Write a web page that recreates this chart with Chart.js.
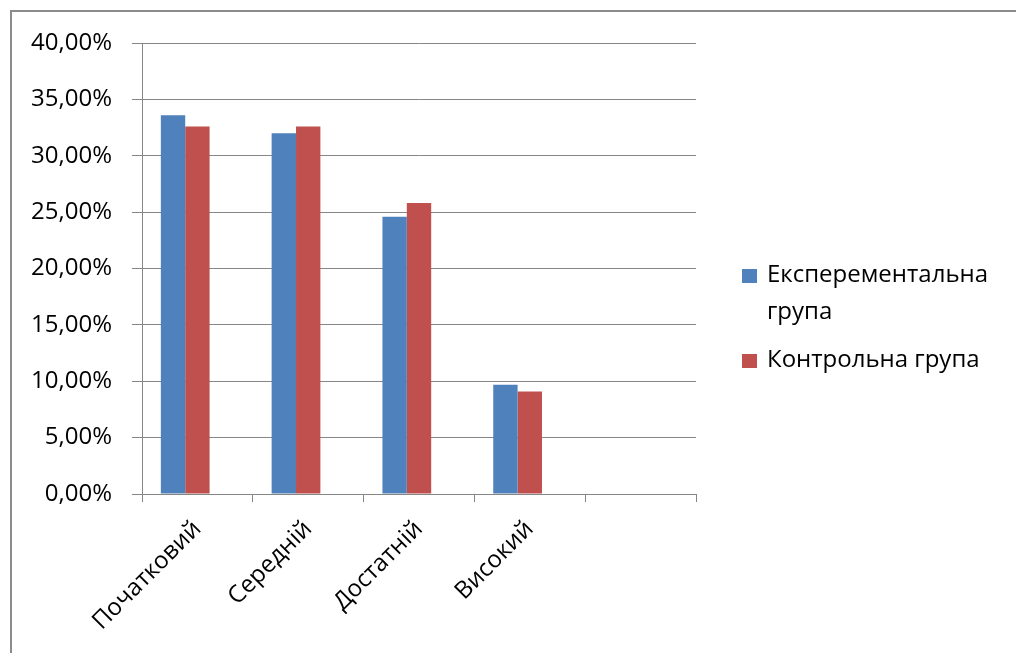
<!DOCTYPE html>
<html lang="uk">
<head>
    <meta charset="UTF-8">
    <title>Рівні — експериментальна та контрольна група</title>
    <script src="https://cdn.jsdelivr.net/npm/chart.js"></script>
    <style>
        html, body {
            margin: 0;
            padding: 0;
            background: #fff;
            overflow: hidden;
        }

        .frame {
            position: absolute;
            left: 10px;
            top: 10px;
            width: 1100px;
            height: 700px;
            border-left: 2px solid #8c8c8c;
            border-top: 2px solid #8c8c8c;
        }

        #chart {
            position: absolute;
            left: 0;
            top: 0;
        }

        .legend-item {
            position: absolute;
            font-family: "Open Sans", sans-serif;
            font-size: 24px;
            line-height: 37px;
            color: #000;
        }

        .legend-box {
            position: absolute;
            width: 15px;
            height: 14px;
        }
    </style>
</head>
<body>
    <div class="frame"></div>
    <canvas id="chart" width="1016" height="653"></canvas>
    <div id="legend"></div>
    <script>
        // дані
        const categories = ['Початковий', 'Середній', 'Достатній', 'Високий', ''];
        const expGroup = [33.6, 32.0, 24.6, 9.7, null];
        const ctrlGroup = [32.6, 32.6, 25.8, 9.1, null];
        const emptySeries = [null, null, null, null, null]; // порожній ряд (зсуває групи)
        const seriesNames = ['Експерементальна група', 'Контрольна група'];
        const seriesColors = ['#4f81bd', '#c0504d'];
        const yTicks = [0, 5, 10, 15, 20, 25, 30, 35, 40];

        const axisColor = '#868686';
        const font = { family: '"Open Sans", sans-serif', size: 24 };

        const ctx = document.getElementById('chart').getContext('2d');
        new Chart(ctx, {
            type: 'bar',
            data: {
                labels: categories,
                datasets: [
                    { label: seriesNames[0], data: expGroup, backgroundColor: seriesColors[0] },
                    { label: seriesNames[1], data: ctrlGroup, backgroundColor: seriesColors[1] },
                    { label: '', data: emptySeries, backgroundColor: 'transparent' }
                ]
            },
            options: {
                responsive: false,
                animation: false,
                layout: { padding: { top: 43, right: 320, bottom: 0, left: 0 } },
                datasets: {
                    bar: { categoryPercentage: 0.66, barPercentage: 1, borderWidth: 0 }
                },
                plugins: {
                    legend: { display: false },
                    tooltip: { enabled: false }
                },
                scales: {
                    x: {
                        afterFit: s => { s.height = 159; },
                        grid: {
                            offset: true,
                            drawOnChartArea: false,
                            tickLength: 8,
                            color: axisColor
                        },
                        border: { color: axisColor },
                        ticks: {
                            font: font,
                            color: '#000',
                            minRotation: 45,
                            maxRotation: 45,
                            padding: 13
                        }
                    },
                    y: {
                        min: 0,
                        max: 40,
                        afterFit: s => { s.width = 142; },
                        afterBuildTicks: s => { s.ticks = yTicks.map(v => ({ value: v })); },
                        grid: { color: axisColor, tickLength: 10 },
                        border: { color: axisColor },
                        ticks: {
                            font: font,
                            color: '#000',
                            padding: 20,
                            callback: v => v.toFixed(2).replace('.', ',') + '%'
                        }
                    }
                }
            }
        });

        // легенда
        const legend = document.getElementById('legend');
        const legendTops = [254, 339];
        seriesNames.forEach((name, i) => {
            const box = document.createElement('div');
            box.className = 'legend-box';
            box.style.left = '742px';
            box.style.top = (legendTops[i] + 15) + 'px';
            box.style.background = seriesColors[i];
            legend.appendChild(box);

            const txt = document.createElement('div');
            txt.className = 'legend-item';
            txt.style.left = '767px';
            txt.style.top = legendTops[i] + 'px';
            txt.style.width = '240px';
            txt.textContent = name;
            legend.appendChild(txt);
        });
    </script>
</body>
</html>
